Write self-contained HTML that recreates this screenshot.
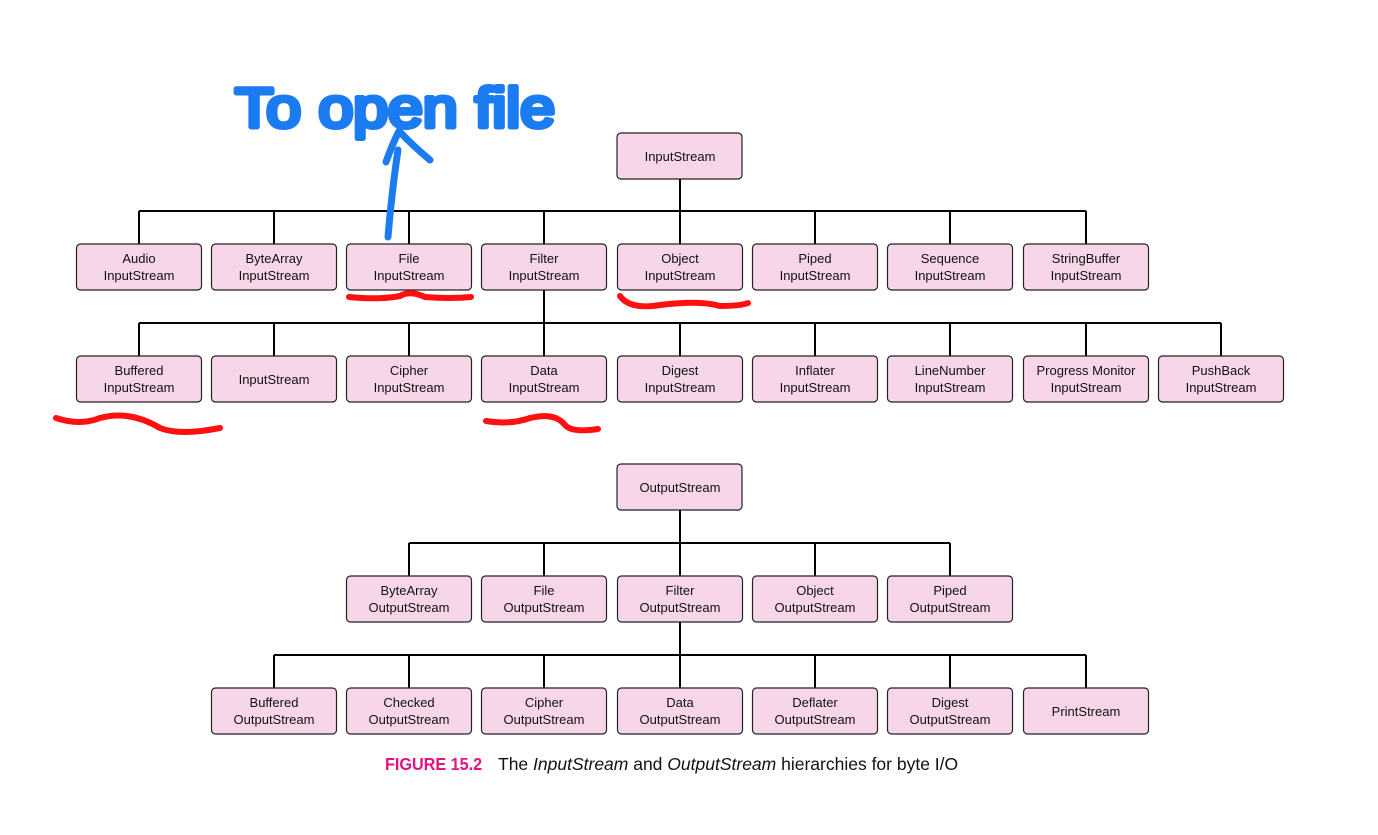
<!DOCTYPE html>
<html><head><meta charset="utf-8"><style>
html,body{margin:0;padding:0;background:#fff;}
svg{display:block;}
</style></head><body>
<svg width="1378" height="835" viewBox="0 0 1378 835" xmlns="http://www.w3.org/2000/svg" font-family="Liberation Sans, Arial, sans-serif">
<g stroke="#000" stroke-width="2" fill="none">
<line x1="680" y1="179" x2="680" y2="211"/>
<line x1="139" y1="211" x2="1086" y2="211"/>
<line x1="139" y1="211" x2="139" y2="244"/><line x1="274" y1="211" x2="274" y2="244"/><line x1="409" y1="211" x2="409" y2="244"/><line x1="544" y1="211" x2="544" y2="244"/><line x1="680" y1="211" x2="680" y2="244"/><line x1="815" y1="211" x2="815" y2="244"/><line x1="950" y1="211" x2="950" y2="244"/><line x1="1086" y1="211" x2="1086" y2="244"/>
<line x1="544" y1="290" x2="544" y2="323"/>
<line x1="139" y1="323" x2="1221" y2="323"/>
<line x1="139" y1="323" x2="139" y2="356"/><line x1="274" y1="323" x2="274" y2="356"/><line x1="409" y1="323" x2="409" y2="356"/><line x1="544" y1="323" x2="544" y2="356"/><line x1="680" y1="323" x2="680" y2="356"/><line x1="815" y1="323" x2="815" y2="356"/><line x1="950" y1="323" x2="950" y2="356"/><line x1="1086" y1="323" x2="1086" y2="356"/><line x1="1221" y1="323" x2="1221" y2="356"/>
<line x1="680" y1="510" x2="680" y2="543"/>
<line x1="409" y1="543" x2="950" y2="543"/>
<line x1="409" y1="543" x2="409" y2="576"/><line x1="544" y1="543" x2="544" y2="576"/><line x1="680" y1="543" x2="680" y2="576"/><line x1="815" y1="543" x2="815" y2="576"/><line x1="950" y1="543" x2="950" y2="576"/>
<line x1="680" y1="622" x2="680" y2="655"/>
<line x1="274" y1="655" x2="1086" y2="655"/>
<line x1="274" y1="655" x2="274" y2="688"/><line x1="409" y1="655" x2="409" y2="688"/><line x1="544" y1="655" x2="544" y2="688"/><line x1="680" y1="655" x2="680" y2="688"/><line x1="815" y1="655" x2="815" y2="688"/><line x1="950" y1="655" x2="950" y2="688"/><line x1="1086" y1="655" x2="1086" y2="688"/>
</g>
<g fill="#f8d6e9" stroke="#222" stroke-width="1.2">
<rect x="617" y="133" width="125" height="46" rx="4"/>
<rect x="76.5" y="244" width="125" height="46" rx="4"/><rect x="211.5" y="244" width="125" height="46" rx="4"/><rect x="346.5" y="244" width="125" height="46" rx="4"/><rect x="481.5" y="244" width="125" height="46" rx="4"/><rect x="617.5" y="244" width="125" height="46" rx="4"/><rect x="752.5" y="244" width="125" height="46" rx="4"/><rect x="887.5" y="244" width="125" height="46" rx="4"/><rect x="1023.5" y="244" width="125" height="46" rx="4"/>
<rect x="76.5" y="356" width="125" height="46" rx="4"/><rect x="211.5" y="356" width="125" height="46" rx="4"/><rect x="346.5" y="356" width="125" height="46" rx="4"/><rect x="481.5" y="356" width="125" height="46" rx="4"/><rect x="617.5" y="356" width="125" height="46" rx="4"/><rect x="752.5" y="356" width="125" height="46" rx="4"/><rect x="887.5" y="356" width="125" height="46" rx="4"/><rect x="1023.5" y="356" width="125" height="46" rx="4"/><rect x="1158.5" y="356" width="125" height="46" rx="4"/>
<rect x="617" y="464" width="125" height="46" rx="4"/>
<rect x="346.5" y="576" width="125" height="46" rx="4"/><rect x="481.5" y="576" width="125" height="46" rx="4"/><rect x="617.5" y="576" width="125" height="46" rx="4"/><rect x="752.5" y="576" width="125" height="46" rx="4"/><rect x="887.5" y="576" width="125" height="46" rx="4"/>
<rect x="211.5" y="688" width="125" height="46" rx="4"/><rect x="346.5" y="688" width="125" height="46" rx="4"/><rect x="481.5" y="688" width="125" height="46" rx="4"/><rect x="617.5" y="688" width="125" height="46" rx="4"/><rect x="752.5" y="688" width="125" height="46" rx="4"/><rect x="887.5" y="688" width="125" height="46" rx="4"/><rect x="1023.5" y="688" width="125" height="46" rx="4"/>
</g>
<g font-size="13" fill="#111" text-anchor="middle">
<text x="680" y="161">InputStream</text>
<text x="139" y="263">Audio</text><text x="139" y="280">InputStream</text>
<text x="274" y="263">ByteArray</text><text x="274" y="280">InputStream</text>
<text x="409" y="263">File</text><text x="409" y="280">InputStream</text>
<text x="544" y="263">Filter</text><text x="544" y="280">InputStream</text>
<text x="680" y="263">Object</text><text x="680" y="280">InputStream</text>
<text x="815" y="263">Piped</text><text x="815" y="280">InputStream</text>
<text x="950" y="263">Sequence</text><text x="950" y="280">InputStream</text>
<text x="1086" y="263">StringBuffer</text><text x="1086" y="280">InputStream</text>
<text x="139" y="375">Buffered</text><text x="139" y="392">InputStream</text>
<text x="274" y="384">InputStream</text>
<text x="409" y="375">Cipher</text><text x="409" y="392">InputStream</text>
<text x="544" y="375">Data</text><text x="544" y="392">InputStream</text>
<text x="680" y="375">Digest</text><text x="680" y="392">InputStream</text>
<text x="815" y="375">Inflater</text><text x="815" y="392">InputStream</text>
<text x="950" y="375">LineNumber</text><text x="950" y="392">InputStream</text>
<text x="1086" y="375">Progress Monitor</text><text x="1086" y="392">InputStream</text>
<text x="1221" y="375">PushBack</text><text x="1221" y="392">InputStream</text>
<text x="680" y="492">OutputStream</text>
<text x="409" y="595">ByteArray</text><text x="409" y="612">OutputStream</text>
<text x="544" y="595">File</text><text x="544" y="612">OutputStream</text>
<text x="680" y="595">Filter</text><text x="680" y="612">OutputStream</text>
<text x="815" y="595">Object</text><text x="815" y="612">OutputStream</text>
<text x="950" y="595">Piped</text><text x="950" y="612">OutputStream</text>
<text x="274" y="707">Buffered</text><text x="274" y="724">OutputStream</text>
<text x="409" y="707">Checked</text><text x="409" y="724">OutputStream</text>
<text x="544" y="707">Cipher</text><text x="544" y="724">OutputStream</text>
<text x="680" y="707">Data</text><text x="680" y="724">OutputStream</text>
<text x="815" y="707">Deflater</text><text x="815" y="724">OutputStream</text>
<text x="950" y="707">Digest</text><text x="950" y="724">OutputStream</text>
<text x="1086" y="716">PrintStream</text>
</g>
<text x="385" y="770" font-size="18" font-weight="bold" fill="#e0157f" transform="translate(385 0) scale(0.9 1) translate(-385 0)">FIGURE 15.2</text>
<text x="498" y="770" font-size="17.5" fill="#111">The <tspan font-style="italic">InputStream</tspan> and <tspan font-style="italic">OutputStream</tspan> hierarchies for byte I/O</text>
<g stroke="#ff1010" stroke-width="6" fill="none" stroke-linecap="round">
<path d="M349 297 Q380 300 400 296 Q410 290 425 297 Q450 299 471 297"/>
<path d="M620 296 Q630 310 660 305 Q700 300 720 306 Q740 306 748 303"/>
<path d="M56 418 Q80 426 100 418 Q130 410 160 428 Q180 436 220 428"/>
<path d="M486 421 Q510 425 530 418 Q555 412 565 425 Q572 433 598 429"/>
</g>
<g stroke="#1a7cf0" stroke-width="7" fill="none" stroke-linecap="round" stroke-linejoin="round">
<path d="M388 237 Q392 190 398 150"/>
<path d="M386 162 Q392 145 399 131 Q412 145 430 160"/>
</g>
<text x="235" y="127" font-size="56" fill="#1a7cf0" stroke="#1a7cf0" stroke-width="5" stroke-linejoin="round" stroke-linecap="round" textLength="320" lengthAdjust="spacingAndGlyphs" font-family="Liberation Sans Narrow, Liberation Sans, sans-serif">To open file</text>
</svg>
</body></html>
